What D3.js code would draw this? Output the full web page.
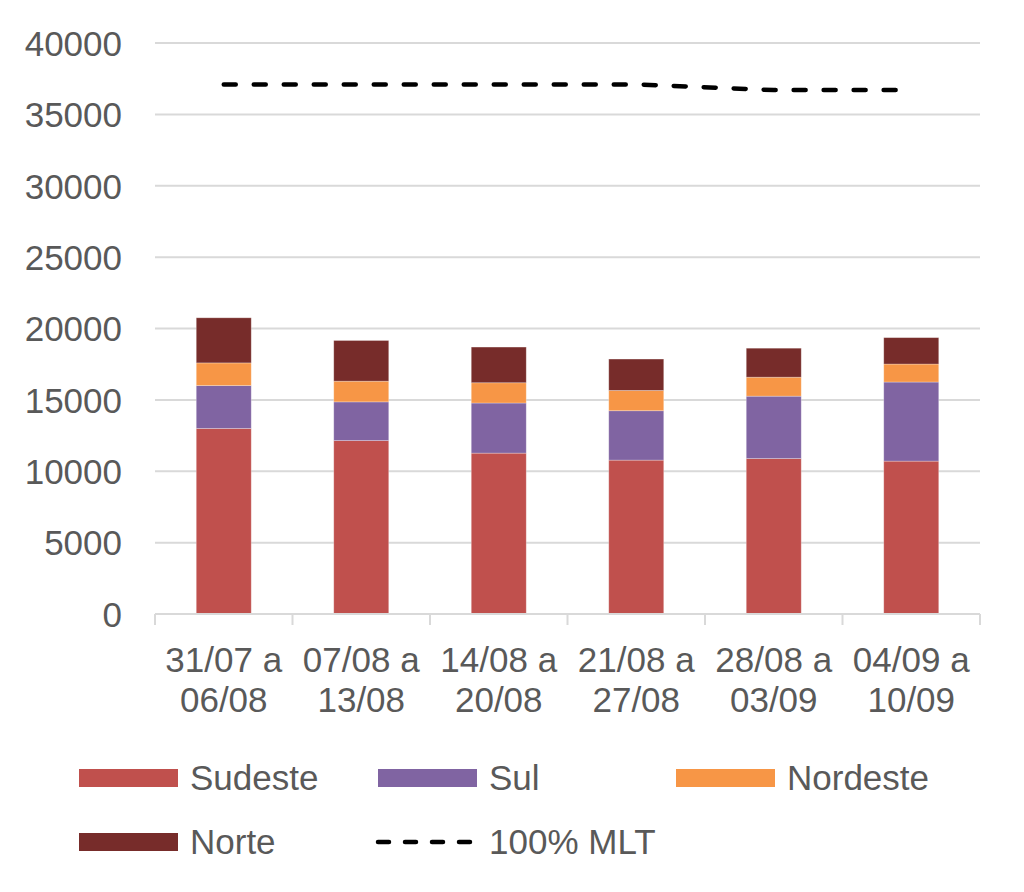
<!DOCTYPE html>
<html>
<head>
<meta charset="utf-8">
<script src="https://cdn.jsdelivr.net/npm/d3@7"></script>
<style>
  html, body { margin: 0; padding: 0; background: #fff; }
  svg { display: block; font-family: "Liberation Sans", Arial, Helvetica, sans-serif; }
</style>
</head>
<body>
<svg id="chart" width="1024" height="892"></svg>
<script>
const categories = [["31/07 a", "06/08"], ["07/08 a", "13/08"], ["14/08 a", "20/08"], ["21/08 a", "27/08"], ["28/08 a", "03/09"], ["04/09 a", "10/09"]];
const sudeste  = [13000, 12150, 11270, 10780, 10890, 10710];
const sul      = [3000, 2710, 3510, 3460, 4370, 5540];
const nordeste = [1590, 1450, 1420, 1420, 1330, 1260];
const norte    = [3160, 2850, 2500, 2200, 2030, 1850];
const mlt      = [37100, 37100, 37100, 37100, 36700, 36700];
const yTicks   = [0, 5000, 10000, 15000, 20000, 25000, 30000, 35000, 40000];

(function () {
const seriesNames = ["Sudeste", "Sul", "Nordeste", "Norte"];
const seriesValues = [sudeste, sul, nordeste, norte];
const colors = { Sudeste: "#C0504D", Sul: "#8064A2", Nordeste: "#F79646", Norte: "#772C2A" };

const svg = d3.select("#chart");
const pLeft = 155, pRight = 980, pTop = 43, pBottom = 614;
const textColor = "#595959", gridColor = "#D9D9D9";
const fs = 35;

const keys = categories.map((c, i) => i);
const x = d3.scaleBand().domain(keys).range([pLeft, pRight]).paddingInner(0.6).paddingOuter(0.3);
const y = d3.scaleLinear().domain([0, 40000]).range([pBottom, pTop]);

// gridlines
svg.append("g").selectAll("line").data(yTicks.filter(t => t > 0)).join("line")
  .attr("x1", pLeft).attr("x2", pRight)
  .attr("y1", d => y(d)).attr("y2", d => y(d))
  .attr("stroke", gridColor).attr("stroke-width", 2);

// y axis labels
const yAxis = d3.axisLeft(y).tickValues(yTicks).tickSize(0).tickPadding(0).tickFormat(d3.format("d"));
const yg = svg.append("g").attr("transform", "translate(122,0)").call(yAxis);
yg.select(".domain").remove();
yg.selectAll("text").attr("fill", textColor).attr("font-size", fs)
  .attr("font-family", "'Liberation Sans', Arial, sans-serif").attr("dy", "0.35em");

// stacked bars
const table = keys.map(i => {
  const o = { i };
  seriesNames.forEach((s, k) => o[s] = seriesValues[k][i]);
  return o;
});
const stacked = d3.stack().keys(seriesNames)(table);
svg.append("g").selectAll("g").data(stacked).join("g")
  .attr("fill", d => colors[d.key])
  .selectAll("rect").data(d => d).join("rect")
  .attr("x", d => x(d.data.i))
  .attr("width", x.bandwidth())
  .attr("y", d => y(d[1]))
  .attr("height", d => y(d[0]) - y(d[1]))
  .attr("stroke", "#ffffff").attr("stroke-opacity", 0.35).attr("stroke-width", 0.8);

// x axis
const boundaries = d3.range(categories.length + 1).map(k => pLeft + k * x.step());
const xg = svg.append("g");
xg.append("line").attr("x1", pLeft).attr("x2", pRight).attr("y1", pBottom).attr("y2", pBottom)
  .attr("stroke", gridColor).attr("stroke-width", 2);
xg.selectAll("line.tick").data(boundaries).join("line").attr("class", "tick")
  .attr("x1", d => d).attr("x2", d => d).attr("y1", pBottom).attr("y2", pBottom + 11)
  .attr("stroke", gridColor).attr("stroke-width", 2);
const labels = xg.selectAll("text").data(keys).join("text")
  .attr("x", d => x(d) + x.bandwidth() / 2)
  .attr("y", 672)
  .attr("text-anchor", "middle")
  .attr("fill", textColor).attr("font-size", fs);
labels.append("tspan").attr("x", d => x(d) + x.bandwidth() / 2).text(d => categories[d][0]);
labels.append("tspan").attr("x", d => x(d) + x.bandwidth() / 2).attr("dy", 40).text(d => categories[d][1]);

// MLT line
const line = d3.line().x((d, i) => x(i) + x.bandwidth() / 2).y(d => y(d));
svg.append("path").datum(mlt).attr("d", line)
  .attr("fill", "none").attr("stroke", "#000").attr("stroke-width", 4.5)
  .attr("stroke-linecap", "round").attr("stroke-dasharray", "12,18");

// legend
const legend = svg.append("g");
const legendItems = [
  { name: "Sudeste", type: "rect", lx: 79, ly: 778 },
  { name: "Sul", type: "rect", lx: 378, ly: 778 },
  { name: "Nordeste", type: "rect", lx: 676, ly: 778 },
  { name: "Norte", type: "rect", lx: 79, ly: 842 },
  { name: "100% MLT", type: "line", lx: 378, ly: 842 }
];
legendItems.forEach(it => {
  if (it.type === "rect") {
    legend.append("rect").attr("x", it.lx).attr("y", it.ly - 9).attr("width", 99).attr("height", 18)
      .attr("fill", colors[it.name]);
  } else {
    legend.append("line").attr("x1", it.lx).attr("x2", it.lx + 99).attr("y1", it.ly).attr("y2", it.ly)
      .attr("stroke", "#000").attr("stroke-width", 4.5).attr("stroke-linecap", "round")
      .attr("stroke-dasharray", "11,16");
  }
  legend.append("text").attr("x", it.lx + 111).attr("y", it.ly).attr("dy", "0.35em")
    .attr("fill", textColor).attr("font-size", fs).text(it.name);
});
})();
</script>
</body>
</html>
